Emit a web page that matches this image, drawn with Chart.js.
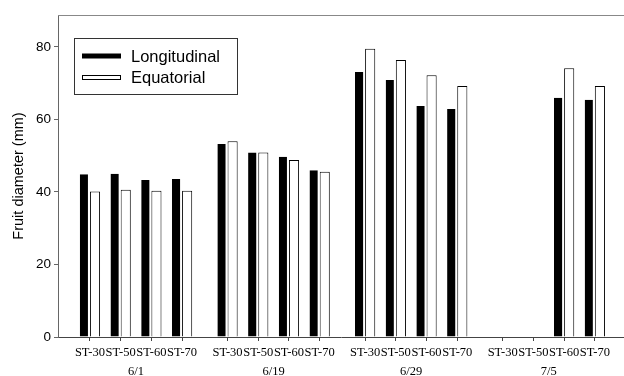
<!DOCTYPE html>
<html>
<head>
<meta charset="utf-8">
<script src="https://cdn.jsdelivr.net/npm/chart.js@4"></script>
<style>
body{margin:0;background:#fff}
#wrap{width:624px;height:376px}
</style>
</head>
<body>
<div id="wrap"><canvas id="myChart"></canvas></div>
<script>
// sampling dates and treatments
const dates = ['6/1', '6/19', '6/29', '7/5'];
const treatments = ['ST-30', 'ST-50', 'ST-60', 'ST-70'];
// fruit diameter (mm), 4 treatments per date
const longitudinal = [44.9, 45.0, 43.3, 43.6, 53.2, 50.9, 49.7, 46.0, 73.1, 70.9, 63.7, 62.9, null, null, 66.0, 65.4];
const equatorial = [40.1, 40.6, 40.3, 40.3, 54.0, 50.9, 48.8, 45.6, 79.5, 76.4, 72.2, 69.2, null, null, 74.1, 69.2];
const yTicks = [0, 20, 40, 60, 80];

// group spacing in bar-slots (groups sit a bit further apart than the bars)
const GAP = 4.48;
const xs = [];
for (let g = 0; g < dates.length; g++) {
  for (let i = 0; i < treatments.length; i++) xs.push(g * GAP + i);
}
const groupCenters = dates.map((d, g) => g * GAP + (treatments.length - 1) / 2);
const xMin = -1.04, xMax = xs[xs.length - 1] + 0.95;

const sans = 'Liberation Sans, Arial, sans-serif';
const serif = 'Liberation Serif, Times New Roman, serif';

const frame = {
  id: 'frame',
  afterDraw(chart) {
    const ctx = chart.ctx, a = chart.chartArea;
    ctx.save();
    ctx.strokeStyle = '#888';
    ctx.lineWidth = 1;
    ctx.beginPath();
    ctx.moveTo(a.left, a.top + 0.5);
    ctx.lineTo(a.right, a.top + 0.5);
    ctx.stroke();
    // legend box
    ctx.strokeStyle = '#333';
    ctx.strokeRect(74.5, 38.5, 163, 56);
    const ds = chart.data.datasets;
    ctx.font = '16.5px ' + sans;
    ctx.textBaseline = 'middle';
    ctx.fillStyle = '#000';
    ctx.fillRect(82, 53.5, 39, 5);
    ctx.fillText(ds[0].label, 131, 57);
    ctx.fillStyle = '#fff';
    ctx.fillRect(82.5, 75.5, 38, 4);
    ctx.strokeStyle = '#000';
    ctx.strokeRect(82.5, 75.5, 38, 4);
    ctx.fillStyle = '#000';
    ctx.fillText(ds[1].label, 131, 78);
    ctx.restore();
  }
};

let ch = document.getElementById('myChart');
new Chart(ch, {
  type: 'bar',
  data: {
    datasets: [{
      label: 'Longitudinal',
      data: xs.map((x, i) => ({x: x, y: longitudinal[i]})),
      backgroundColor: '#000',
      borderColor: '#fff',
      borderWidth: {top: 0, left: 0, bottom: 0, right: 2},
      categoryPercentage: 0.66,
      barPercentage: 1
    }, {
      label: 'Equatorial',
      data: xs.map((x, i) => ({x: x, y: equatorial[i]})),
      backgroundColor: '#fff',
      borderColor: '#000',
      borderWidth: 1,
      categoryPercentage: 0.66,
      barPercentage: 1
    }]
  },
  plugins: [frame],
  options: {
    animation: false,
    responsive: true,
    maintainAspectRatio: false,
    devicePixelRatio: 1,
    layout: {padding: {top: 15, left: 0, right: 0, bottom: 0}},
    plugins: {legend: {display: false}, tooltip: {enabled: false}},
    scales: {
      x: {
        type: 'linear',
        position: 'bottom',
        offset: false,
        weight: 0,
        min: xMin,
        max: xMax,
        afterBuildTicks: s => { s.ticks = xs.map(v => ({value: v})); },
        afterFit: s => { s.height = 22; },
        grid: {offset: false, drawOnChartArea: false, tickLength: 4, color: '#444'},
        border: {color: '#444'},
        ticks: {
          autoSkip: false, maxRotation: 0, minRotation: 0, padding: 4,
          color: '#000', font: {family: serif, size: 12.5},
          callback: (v, i) => treatments[i % treatments.length]
        }
      },
      x2: {
        type: 'linear',
        position: 'bottom',
        offset: false,
        weight: 1,
        min: xMin,
        max: xMax,
        afterBuildTicks: s => { s.ticks = groupCenters.map(v => ({value: v})); },
        afterFit: s => { s.height = 17; },
        grid: {display: false, drawTicks: false},
        border: {display: false},
        ticks: {
          autoSkip: false, maxRotation: 0, padding: 5,
          color: '#000', font: {family: serif, size: 12.5},
          callback: (v, i) => dates[i]
        }
      },
      y: {
        min: 0,
        max: 88.8,
        afterBuildTicks: s => { s.ticks = yTicks.map(v => ({value: v})); },
        afterFit: s => { s.width = 58; },
        grid: {drawOnChartArea: false, tickLength: 4, color: '#666'},
        border: {color: '#666'},
        ticks: {padding: 3, color: '#000', font: {family: sans, size: 13.5}},
        title: {
          display: true, text: 'Fruit diameter (mm)', color: '#000',
          font: {family: sans, size: 14.5}, padding: {top: 10, bottom: 0}
        }
      }
    }
  }
});
</script>
</body>
</html>
